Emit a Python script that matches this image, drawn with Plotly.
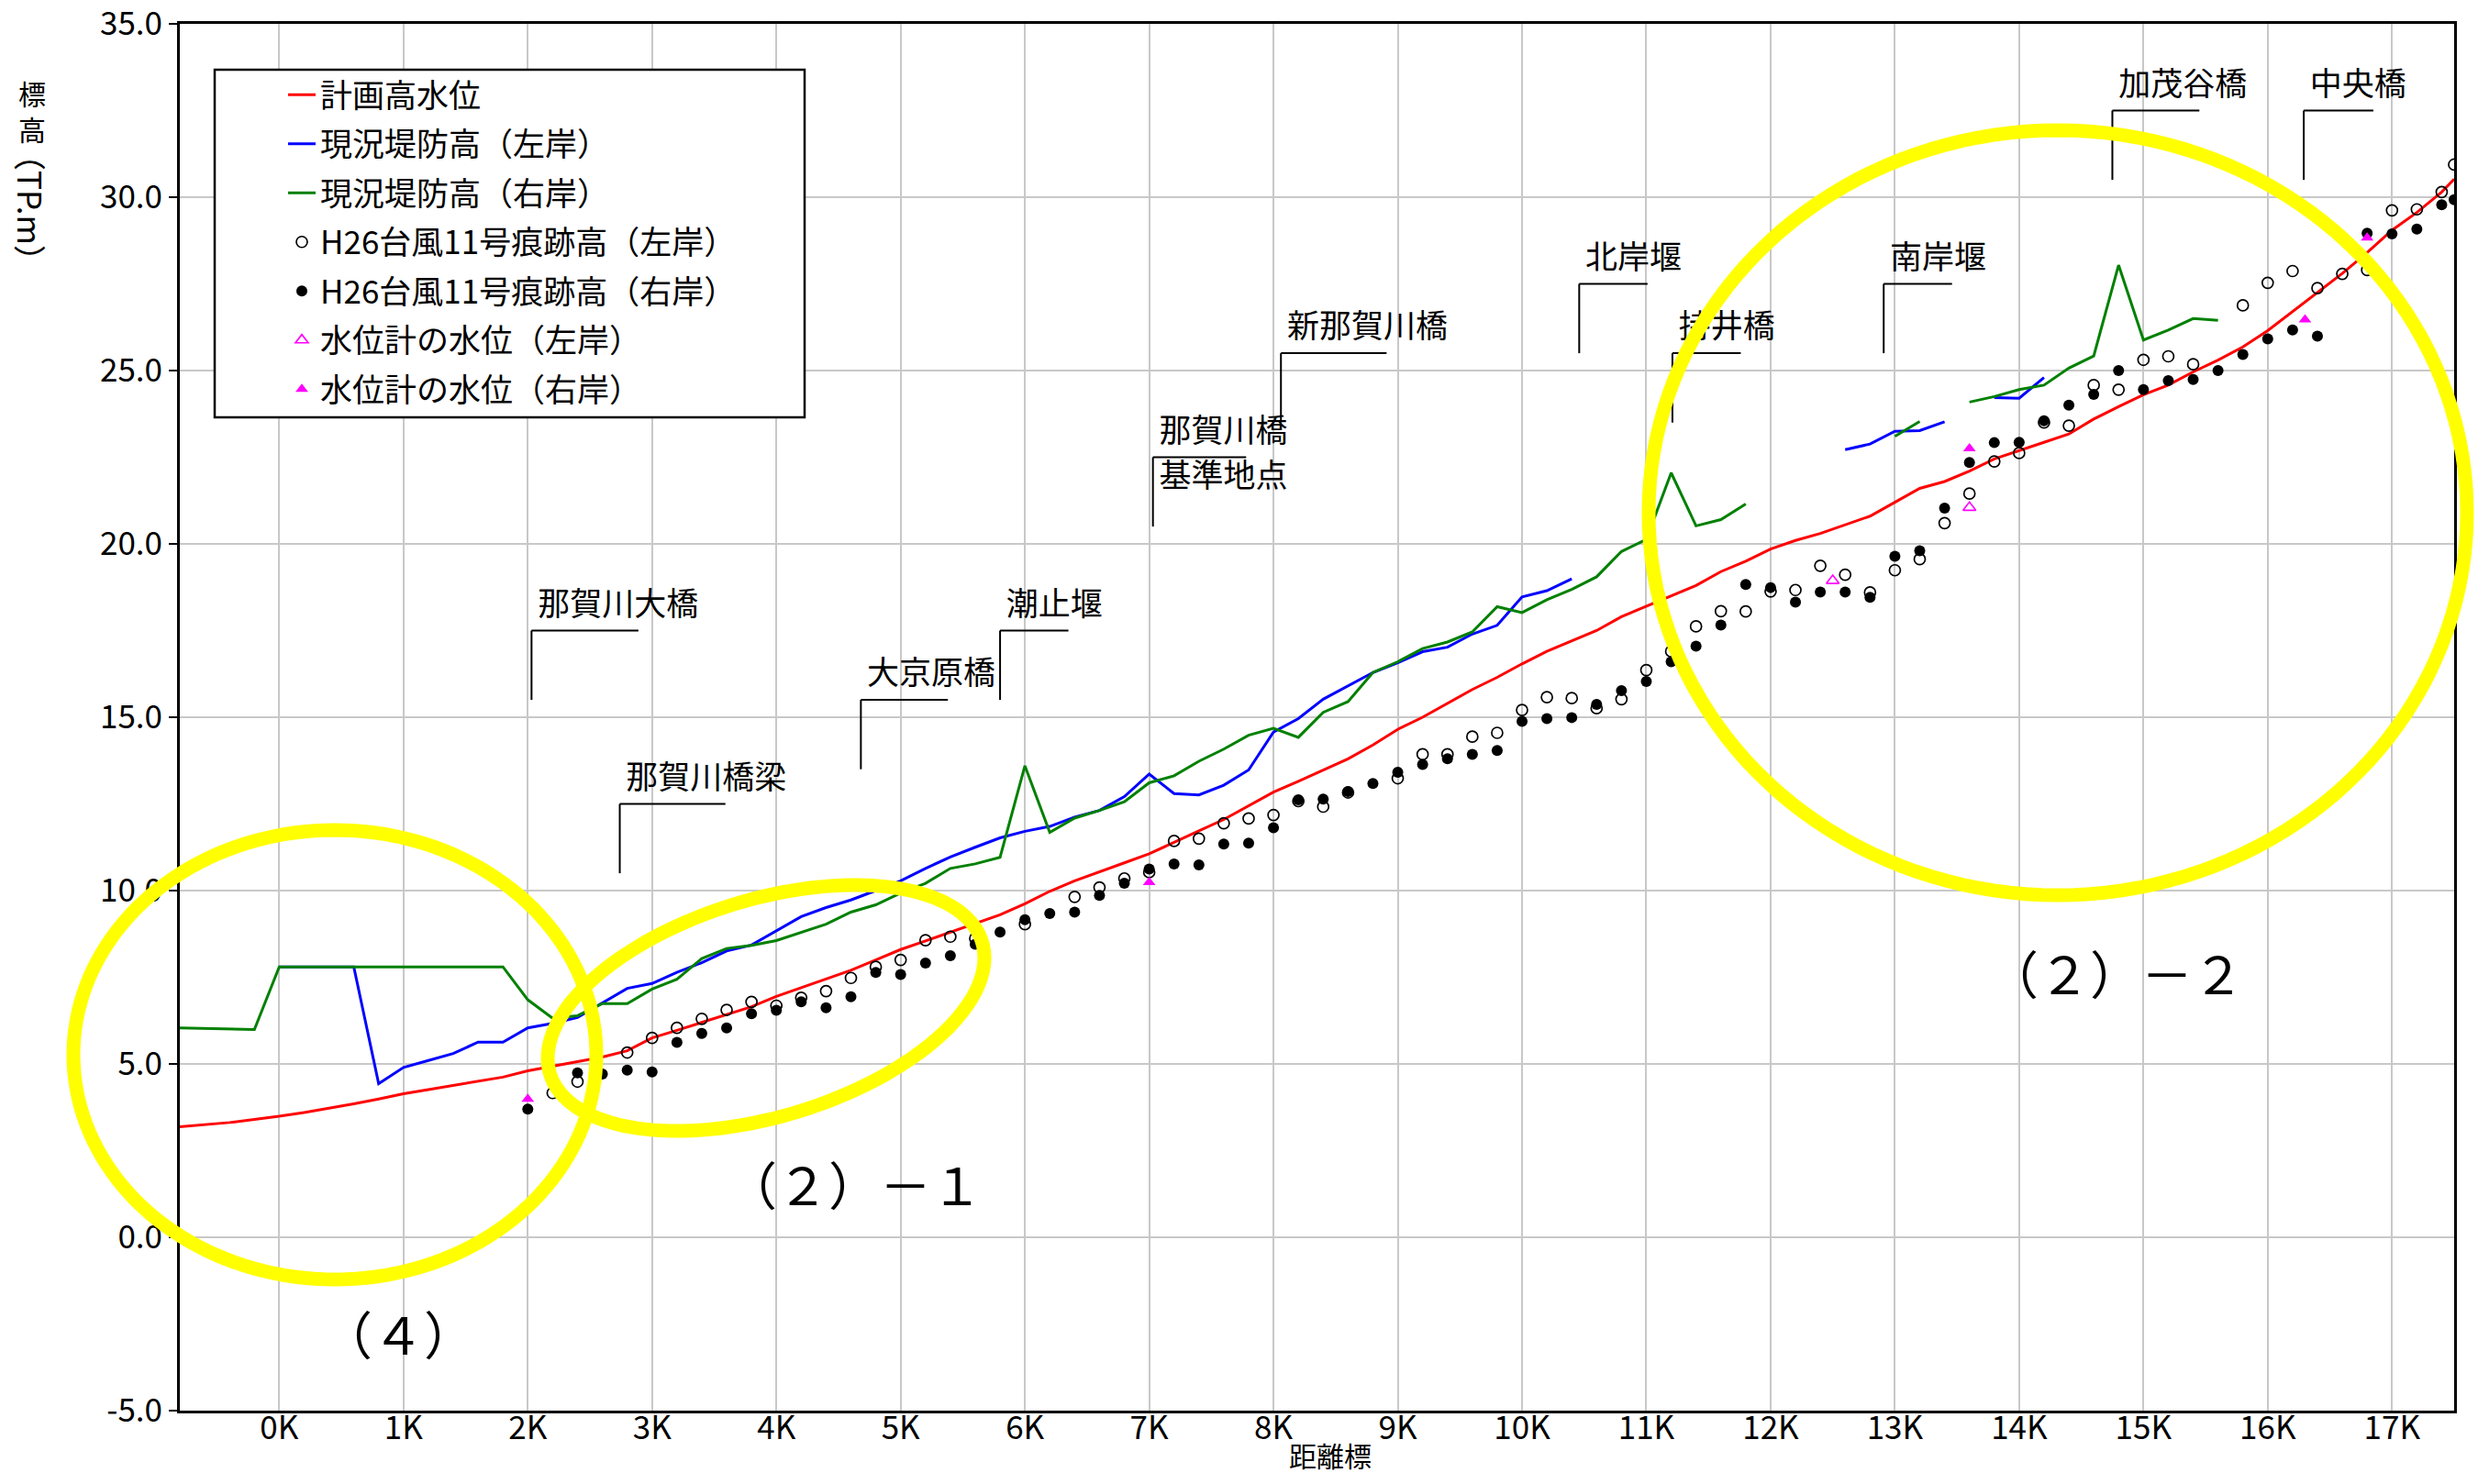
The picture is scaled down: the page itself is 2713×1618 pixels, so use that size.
import math
import plotly.graph_objects as go

# ---------------- data ----------------
KM = [-0.8, -0.6, -0.4, -0.2, 0.0, 0.2, 0.4, 0.6, 0.8, 1.0, 1.2, 1.4, 1.6, 1.8,
      2.0, 2.2, 2.4, 2.6, 2.8, 3.0, 3.2, 3.4, 3.6, 3.8, 4.0, 4.2, 4.4, 4.6, 4.8,
      5.0, 5.2, 5.4, 5.6, 5.8, 6.0, 6.2, 6.4, 6.6, 6.8, 7.0, 7.2, 7.4, 7.6, 7.8,
      8.0, 8.2, 8.4, 8.6, 8.8, 9.0, 9.2, 9.4, 9.6, 9.8, 10.0, 10.2, 10.4, 10.6,
      10.8, 11.0, 11.2, 11.4, 11.6, 11.8, 12.0, 12.2, 12.4, 12.6, 12.8, 13.0,
      13.2, 13.4, 13.6, 13.8, 14.0, 14.2, 14.4, 14.6, 14.8, 15.0, 15.2, 15.4,
      15.6, 15.8, 16.0, 16.2, 16.4, 16.6, 16.8, 17.0, 17.2, 17.4, 17.5]

PLAN_HWL = [3.19, 3.25, 3.31, 3.40, 3.49, 3.60, 3.72, 3.85, 3.99, 4.14, 4.26, 4.38, 4.49, 4.62,
            4.80, 4.93, 5.06, 5.20, 5.38, 5.75, 5.97, 6.20, 6.42, 6.65, 6.95, 7.20, 7.45, 7.70, 8.00,
            8.30, 8.55, 8.80, 9.05, 9.30, 9.62, 9.98, 10.28, 10.55, 10.80, 11.06, 11.40, 11.72, 12.05, 12.45,
            12.84, 13.15, 13.47, 13.80, 14.20, 14.65, 15.00, 15.40, 15.80, 16.15, 16.54, 16.90, 17.20, 17.50,
            17.90, 18.20, 18.50, 18.80, 19.20, 19.50, 19.85, 20.10, 20.30, 20.55, 20.80, 21.20,
            21.60, 21.80, 22.10, 22.45, 22.70, 22.93, 23.17, 23.60, 23.96, 24.30, 24.58, 24.96,
            25.30, 25.68, 26.15, 26.70, 27.26, 27.80, 28.40, 29.05, 29.56, 30.15, 30.52]

LEVEE_LEFT = [None, None, None, None, 7.8, 7.8, 7.8, 7.8, 4.43, 4.90, 5.10, 5.30, 5.63, 5.63,
              6.04, 6.17, 6.34, 6.76, 7.18, 7.32, 7.64, 7.92, 8.26, 8.43, 8.83, 9.25, 9.51, 9.73, 10.00,
              10.28, 10.64, 10.97, 11.25, 11.52, 11.71, 11.85, 12.12, 12.31, 12.71, 13.36, 12.80, 12.76, 13.04, 13.48,
              14.57, 14.96, 15.52, 15.91, 16.29, 16.57, 16.89, 17.02, 17.40, 17.65, 18.47, 18.65, 18.99, None,
              None, None, None, None, None, None, None, None, None, 22.72, 22.88, 23.25,
              23.27, 23.52, None, 24.22, 24.20, 24.80, None, None, None, None, None, None,
              None, None, None, None, None, None, None, None, None, None, None]

LEVEE_RIGHT = [6.04, 6.02, 6.00, 5.99, 7.8, 7.8, 7.8, 7.8, 7.8, 7.8, 7.8, 7.8, 7.8, 7.8,
               6.85, 6.32, 6.39, 6.74, 6.74, 7.16, 7.44, 8.04, 8.33, 8.42, 8.56, 8.80, 9.03, 9.38, 9.59,
               9.93, 10.21, 10.64, 10.77, 10.96, 13.60, 11.68, 12.09, 12.31, 12.56, 13.11, 13.31, 13.73, 14.08, 14.48,
               14.68, 14.42, 15.14, 15.45, 16.29, 16.60, 16.98, 17.17, 17.46, 18.19, 18.02, 18.39, 18.69, 19.05,
               19.78, 20.13, 22.05, 20.52, 20.70, 21.15, None, None, None, None, None, 23.10,
               23.53, None, 24.09, 24.25, 24.45, 24.58, 25.07, 25.42, 28.04, 25.88, 26.17, 26.50,
               26.45, None, None, None, None, None, None, None, None, None, None]

MARK_KM = [2.0, 2.2, 2.4, 2.6, 2.8, 3.0, 3.2, 3.4, 3.6, 3.8, 4.0, 4.2, 4.4, 4.6, 4.8,
           5.0, 5.2, 5.4, 5.6, 5.8, 6.0, 6.2, 6.4, 6.6, 6.8, 7.0, 7.2, 7.4, 7.6, 7.8,
           8.0, 8.2, 8.4, 8.6, 8.8, 9.0, 9.2, 9.4, 9.6, 9.8, 10.0, 10.2, 10.4, 10.6,
           10.8, 11.0, 11.2, 11.4, 11.6, 11.8, 12.0, 12.2, 12.4, 12.6, 12.8, 13.0,
           13.2, 13.4, 13.6, 13.8, 14.0, 14.2, 14.4, 14.6, 14.8, 15.0, 15.2, 15.4,
           15.6, 15.8, 16.0, 16.2, 16.4, 16.6, 16.8, 17.0, 17.2, 17.4, 17.5]

H26_LEFT = [None, 4.16, 4.49, None, 5.33, 5.75, 6.04, 6.30, 6.56, 6.79, 6.68, 6.91, 7.10, 7.48, 7.80,
            8.00, 8.57, 8.67, 8.62, None, 9.03, None, 9.82, 10.09, 10.35, 10.53, 11.43, 11.50, 11.94, 12.08,
            12.18, 12.58, 12.42, 12.83, None, 13.24, 13.93, 13.93, 14.44, 14.55, 15.21, 15.58, 15.55, 15.26,
            15.52, 16.36, 16.90, 17.62, 18.06, 18.05, 18.63, 18.67, 19.37, 19.11, 18.60, 19.24,
            19.56, 20.60, 21.45, 22.38, 22.62, 23.50, 23.41, 24.58, 24.45, 25.31, 25.41, 25.18,
            None, 26.88, 27.53, 27.87, 27.38, 27.79, 27.90, 29.62, 29.65, 30.15, 30.94]

H26_RIGHT = [3.70, None, 4.74, 4.71, 4.82, 4.77, 5.62, 5.88, 6.04, 6.45, 6.55, 6.79, 6.62, 6.94, 7.64,
             7.58, 7.91, 8.12, 8.45, 8.80, 9.16, 9.34, 9.38, 9.86, 10.21, 10.62, 10.77, 10.74, 11.34, 11.37,
             11.81, 12.62, 12.64, 12.86, 13.09, 13.41, 13.64, 13.80, 13.93, 14.04, 14.88, 14.96, 14.99, 15.37,
             15.77, 16.03, 16.60, 17.05, 17.66, 18.83, 18.74, 18.32, 18.61, 18.61, 18.46, 19.64,
             19.80, 21.03, 22.35, 22.92, 22.93, 23.55, 24.00, 24.31, 25.00, 24.45, 24.71, 24.74,
             25.00, 25.46, 25.91, 26.17, 25.99, None, 28.96, 28.94, 29.08, 29.78, 29.93]

GAUGE_LEFT_KM = [12.5, 13.6]
GAUGE_LEFT = [18.94, 21.05]
GAUGE_RIGHT_KM = [2.0, 7.0, 13.6, 16.3, 16.8]
GAUGE_RIGHT = [3.99, 10.24, 22.75, 26.47, 28.83]

SERIES_NAMES = ["計画高水位", "現況堤防高（左岸）", "現況堤防高（右岸）",
                "H26台風11号痕跡高（左岸）", "H26台風11号痕跡高（右岸）",
                "水位計の水位（左岸）", "水位計の水位（右岸）"]

X_TICK_VALS = [0, 1, 2, 3, 4, 5, 6, 7, 8, 9, 10, 11, 12, 13, 14, 15, 16, 17]
X_TICK_TEXT = ["0K", "1K", "2K", "3K", "4K", "5K", "6K", "7K", "8K", "9K", "10K",
               "11K", "12K", "13K", "14K", "15K", "16K", "17K"]
Y_TICK_VALS = [-5, 0, 5, 10, 15, 20, 25, 30, 35]
Y_TICK_TEXT = ["-5.0", "0.0", "5.0", "10.0", "15.0", "20.0", "25.0", "30.0", "35.0"]

LANDMARK_NAMES = ["那賀川大橋", "那賀川橋梁", "大京原橋", "潮止堰", "那賀川橋", "新那賀川橋",
                  "北岸堰", "持井橋", "南岸堰", "加茂谷橋", "中央橋"]
LANDMARK_KM = [2.03, 2.74, 4.68, 5.80, 7.03, 8.06, 10.46, 11.21, 12.91, 14.75, 16.29]
LEADER_BOTTOM = [15.5, 10.5, 13.5, 15.5, 20.5, 23.5, 25.5, 23.5, 25.5, 30.5, 30.5]
LEADER_ARM = [0.86, 0.85, 0.70, 0.55, 0.75, 0.85, 0.55, 0.55, 0.55, 0.70, 0.56]
SUBLABEL = "基準地点"

# ---------------- layout geometry ----------------
# the page body has an 8px margin, so the figure is drawn 8px in from the corner
PAGE_W, PAGE_H = 2713, 1618
OFF = 8
W, H = PAGE_W - 2 * OFF, PAGE_H - 2 * OFF
L, R, T, B = 188, 30, 18, 72
PW, PH = W - L - R, H - T - B
XR = [-0.8, 17.5]
YR = [-5, 35]
FONT = "Noto Sans CJK JP"


def pp(px, py):
    """pixel position on the page -> paper coordinates"""
    return (px - OFF - L) / PW, (H - B - (py - OFF)) / PH


fig = go.Figure()

fig.add_trace(go.Scatter(x=KM, y=PLAN_HWL, mode="lines", name=SERIES_NAMES[0],
                         legendgroup="g0", line=dict(color="#ff0000", width=3)))
fig.add_trace(go.Scatter(x=KM, y=LEVEE_LEFT, mode="lines", name=SERIES_NAMES[1],
                         legendgroup="g1", connectgaps=False,
                         line=dict(color="#0000ff", width=3)))
fig.add_trace(go.Scatter(x=KM, y=LEVEE_RIGHT, mode="lines", name=SERIES_NAMES[2],
                         legendgroup="g2", connectgaps=False,
                         line=dict(color="#008000", width=3)))
fig.add_trace(go.Scatter(x=MARK_KM, y=H26_LEFT, mode="markers", name=SERIES_NAMES[3],
                         legendgroup="g3",
                         marker=dict(symbol="circle-open", size=12, color="black",
                                     line=dict(width=1.7, color="black"))))
fig.add_trace(go.Scatter(x=MARK_KM, y=H26_RIGHT, mode="markers", name=SERIES_NAMES[4],
                         legendgroup="g4",
                         marker=dict(symbol="circle", size=12, color="black")))
fig.add_trace(go.Scatter(x=GAUGE_LEFT_KM, y=GAUGE_LEFT, mode="markers", name=SERIES_NAMES[5],
                         legendgroup="g5",
                         marker=dict(symbol="triangle-up-open", size=12, color="#ff00ff",
                                     line=dict(width=1.7, color="#ff00ff"))))
fig.add_trace(go.Scatter(x=GAUGE_RIGHT_KM, y=GAUGE_RIGHT, mode="markers", name=SERIES_NAMES[6],
                         legendgroup="g6",
                         marker=dict(symbol="triangle-up", size=12, color="#ff00ff")))

# landmark labels (as text trace so the yellow rings can overlap them)
lab_x = [k + 0.05 for k in LANDMARK_KM] + [LANDMARK_KM[4] + 0.05]
lab_y = [b + 2.0 + 0.68 for b in LEADER_BOTTOM] + [LEADER_BOTTOM[4] + 2.0 - 0.62]
lab_t = LANDMARK_NAMES + [SUBLABEL]
fig.add_trace(go.Scatter(x=lab_x, y=lab_y, text=lab_t, mode="text",
                         textposition="middle right", showlegend=False,
                         hoverinfo="skip", cliponaxis=False,
                         textfont=dict(family=FONT, size=35, color="black")))

shapes = []
# legend frame
lx0, ly0 = pp(234, 76)
lx1, ly1 = pp(877, 455)
shapes.append(dict(type="rect", xref="paper", yref="paper", x0=lx0, x1=lx1, y0=ly1, y1=ly0,
                   fillcolor="white", line=dict(color="black", width=2.5), layer="above"))
# leader lines
for k, b, a in zip(LANDMARK_KM, LEADER_BOTTOM, LEADER_ARM):
    shapes.append(dict(type="line", xref="x", yref="y", x0=k, x1=k, y0=b, y1=b + 2.0,
                       line=dict(color="black", width=2), layer="above"))
    shapes.append(dict(type="line", xref="x", yref="y", x0=k, x1=k + a, y0=b + 2.0, y1=b + 2.0,
                       line=dict(color="black", width=2), layer="above"))


def ellipse_path(fn, n=160):
    pts = []
    for i in range(n):
        t = 2 * math.pi * i / n
        px, py = fn(t)
        x, y = pp(px, py)
        pts.append(f"{x:.5f},{y:.5f}")
    return "M" + " L".join(pts) + " Z"


rings = [
    lambda t: (365 + 285 * math.cos(t), 1150 + 245 * math.sin(t)),
    lambda t: (835 + 238 * math.cos(t), 1099 - 54.6 * math.cos(t) + 122.4 * math.sin(t)),
    lambda t: (2243 + 446 * math.cos(t), 559 + 417 * math.sin(t)),
]
for fn in rings:
    shapes.append(dict(type="path", xref="paper", yref="paper", path=ellipse_path(fn),
                       line=dict(color="#ffff00", width=15), layer="above"))

annotations = []
for txt, (px, py) in [("（４）", (434, 1452)), ("（２）－１", (931, 1289)), ("（２）－２", (2306, 1059))]:
    x, y = pp(px, py)
    annotations.append(dict(text=txt, x=x, y=y, xref="paper", yref="paper", showarrow=False,
                            xanchor="center", yanchor="middle",
                            font=dict(family=FONT, size=56, color="black")))
x, y = pp(35, 120)
annotations.append(dict(text="標<br>高", x=x, y=y, xref="paper", yref="paper", showarrow=False,
                        xanchor="center", yanchor="middle",
                        font=dict(family=FONT, size=30, color="black")))
x, y = pp(35, 226)
annotations.append(dict(text="（TP.m）", x=x, y=y, xref="paper", yref="paper", showarrow=False,
                        textangle=90, xanchor="center", yanchor="middle",
                        font=dict(family=FONT, size=35, color="black")))
x, y = pp(1450, 1586)
annotations.append(dict(text="距離標", x=x, y=y, xref="paper", yref="paper", showarrow=False,
                        xanchor="center", yanchor="middle", borderpad=0,
                        font=dict(family=FONT, size=30, color="black")))

gx, gy = pp(309, 74)
fig.update_layout(
    width=W, height=H, autosize=False,
    margin=dict(l=L, r=R, t=T, b=B, pad=0, autoexpand=False),
    paper_bgcolor="white", plot_bgcolor="white",
    font=dict(family=FONT, size=35, color="black"),
    showlegend=True,
    legend=dict(x=gx, y=gy, xanchor="left", yanchor="top", bgcolor="rgba(0,0,0,0)",
                borderwidth=0, font=dict(family=FONT, size=35, color="black"),
                traceorder="grouped", tracegroupgap=5, itemwidth=30),
    xaxis=dict(range=XR, tickvals=X_TICK_VALS, ticktext=X_TICK_TEXT, showgrid=True,
               gridcolor="#c8c8c8", gridwidth=2, zeroline=False, showline=True,
               linecolor="black", linewidth=3, mirror=True, ticks="", automargin=False,
               ticklabelstandoff=-14, ticklabeloverflow="allow",
               tickfont=dict(family=FONT, size=35, color="black")),
    yaxis=dict(range=YR, tickvals=Y_TICK_VALS, ticktext=Y_TICK_TEXT, showgrid=True,
               gridcolor="#c8c8c8", gridwidth=2, zeroline=False, showline=True,
               linecolor="black", linewidth=3, mirror=True, ticks="outside", automargin=False,
               ticklen=9, tickwidth=2, tickcolor="black", ticklabeloverflow="allow",
               tickfont=dict(family=FONT, size=35, color="black")),
    shapes=shapes,
    annotations=annotations,
)

fig.write_html("out.html")
